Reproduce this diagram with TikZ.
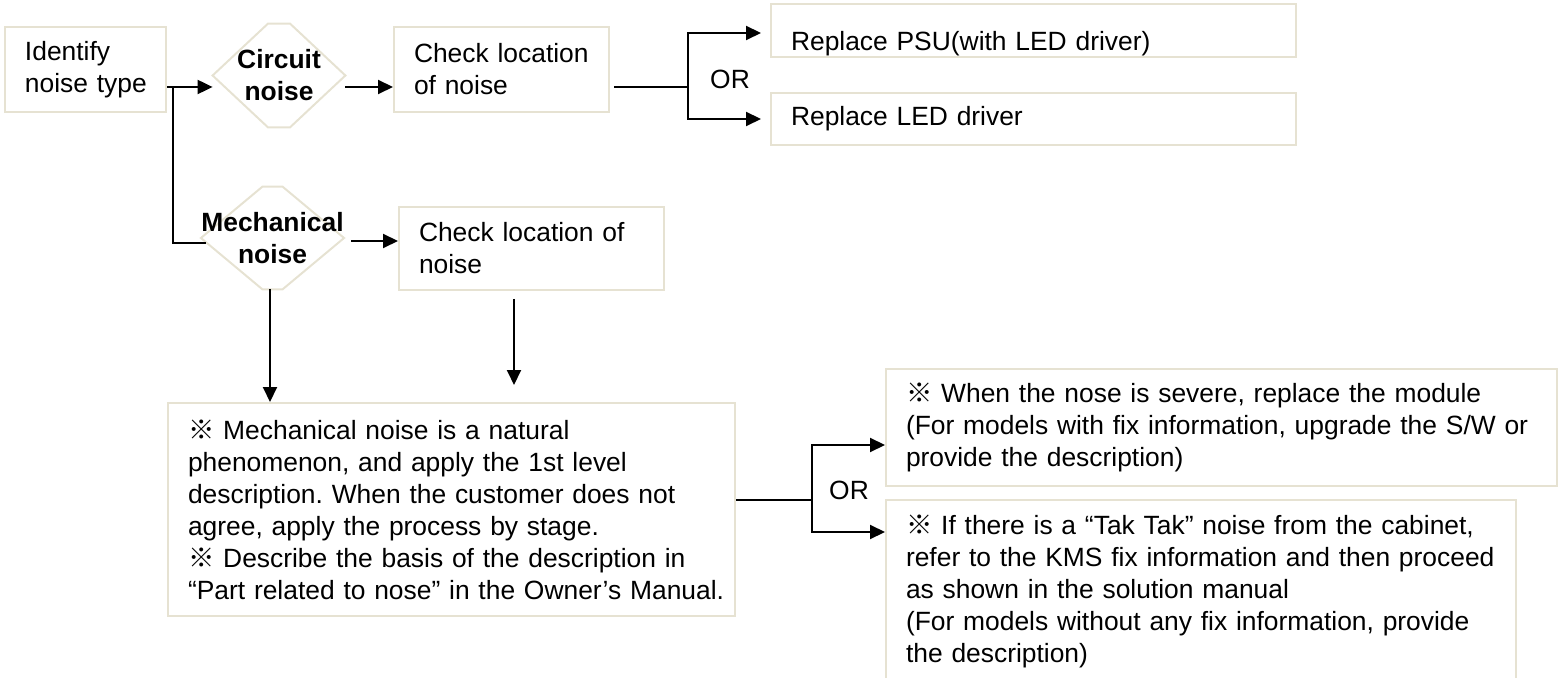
\documentclass[tikz,border=0pt]{standalone}
\usepackage{fontspec}
\setmainfont{Liberation Sans}
\newfontfamily\cjkfont{Noto Sans CJK SC}
\usepackage{xcolor}
\definecolor{nzframe}{HTML}{E6E2D2}
\definecolor{nzink}{HTML}{000000}
\usetikzlibrary{arrows.meta,backgrounds}
\newcommand{\refmark}{{\cjkfont ※}}
\frenchspacing
\tikzset{
  >={Triangle[length=7.5pt,width=7pt]},
  every picture/.style={line join=miter},
  flow/.style={nzink, line width=1pt},
  arr/.style={flow, ->},
  stepbox/.style={draw=nzframe, line width=1pt, anchor=north west, align=left,
    inner xsep=10pt, inner ysep=0pt, font=\fontsize{13.2}{16}\selectfont,
    execute at begin node={\rightskip=0pt plus 2em minus 30pt\relax}},
  decision/.style={inner sep=0pt, align=center,
    font=\fontsize{13.2}{16}\selectfont\bfseries},
  hexline/.style={draw=nzframe, line width=1pt},
  orlbl/.style={font=\fontsize{13.2}{16}\selectfont, inner sep=0pt},
}

\begin{document}
\begin{tikzpicture}[x=0.5pt, y=-0.5pt]
\useasboundingbox (0,0) rectangle (1561,678);
% ------------------------------------------------------------- steps
\node[stepbox, text width=60.5pt, minimum height=42.5pt] (idf) at (4,26)
  {Identify\\noise type};
\node[decision, minimum width=66pt, minimum height=51.5pt] (circ) at (279,75.5)
  {Circuit\\noise};
\node[stepbox, text width=87.5pt, minimum height=42.5pt] (chk1) at (393,26)
  {Check location\\of noise};
\node[stepbox, text width=242.5pt, text height=23.5pt, text depth=3pt] (psu) at (770,3)
  {Replace PSU(with LED driver)};
\node[stepbox, text width=242.5pt, minimum height=26pt] (led) at (770,92)
  {Replace LED driver};
\node[decision, minimum width=65.5pt, minimum height=51pt] (mech) at (272.5,238)
  {Mechanical\\noise};
\node[stepbox, text width=112.5pt, minimum height=41.5pt] (chk2) at (398,206)
  {Check location of\\noise};
\node[stepbox, text width=263.5pt, minimum height=106.5pt] (note) at (167,402)
  {\refmark\ Mechanical noise is a natural\\
   phenomenon, and apply the 1st level\\
   description. When the customer does not\\
   agree, apply the process by stage.\\
   \refmark\ Describe the basis of the description in\\
   “Part related to nose” in the Owner’s Manual.};
\node[stepbox, text width=315.5pt, minimum height=58.5pt] (fixA) at (885,368)
  {{\bfseries\refmark}\ When the nose is severe, replace the module\\
   (For models with fix information, upgrade the S/W or\\
   provide the description)};
\node[stepbox, text width=295pt, minimum height=91pt] (fixB) at (885,499)
  {\refmark\ If there is a “Tak Tak” noise from the cabinet,\\
   refer to the KMS fix information and then proceed\\
   as shown in the solution manual\\
   (For models without any fix information, provide\\
   the description)};
\node[orlbl] (or1lbl) at (730,79) {OR};
\node[orlbl] (or2lbl) at (849,490) {OR};

\begin{scope}[on background layer]
\foreach \d/\f in {circ/5.5pt,mech/5pt}
  \draw[hexline] (\d.west) -- ([xshift=-\f]\d.north) -- ([xshift=\f]\d.north)
    -- (\d.east) -- ([xshift=\f]\d.south) -- ([xshift=-\f]\d.south) -- cycle;
\end{scope}

% ------------------------------------------------------------- connectors
\draw[arr] ([yshift=13pt]idf.south east) coordinate (a0) -- (a0 -| circ.west);
\coordinate (split) at ([xshift=3pt]a0);
\draw[flow] (split) |- ([shift={(2.5pt,-2.5pt)}]mech.west);
\draw[arr] (a0 -| circ.east) -- (a0 -| chk1.west);

\path (a0 -| chk1.east) ++(39pt,0) coordinate (or1);
\draw[flow] ([xshift=2pt]a0 -| chk1.east) -- (or1);
\draw[arr] (or1) |- ([xshift=-4.5pt,yshift=-1.25pt]psu.west);
\draw[arr] (or1) |- ([xshift=-4.5pt]led.west);

\draw[arr] ([shift={(3.5pt,-1.5pt)}]mech.east) coordinate (a1) -- (a1 -| chk2.west);
\draw[arr] ([xshift=-1.25pt]mech.south) coordinate (a2) -- (a2 |- note.north);
\draw[arr, shorten >=8.5pt] ([shift={(-8.75pt,-4pt)}]chk2.south) coordinate (a3)
  -- (a3 |- note.north);

\draw[flow] ([yshift=4.75pt]note.east) -- ++(38pt,0) coordinate (or2);
\draw[arr] (or2) |- ([yshift=-8.75pt]fixA.west);
\draw[arr] (or2) |- ([yshift=-16.5pt]fixB.north west);
\end{tikzpicture}
\end{document}
